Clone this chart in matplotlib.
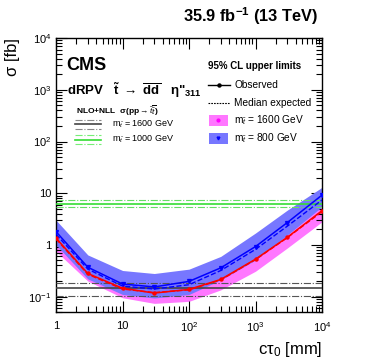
import numpy as np
import matplotlib.pyplot as plt
from matplotlib.lines import Line2D
from matplotlib.patches import Rectangle

plt.rcParams['font.family'] = ['Liberation Sans', 'DejaVu Sans']
plt.rcParams['mathtext.fontset'] = 'custom'
plt.rcParams['mathtext.rm'] = 'Liberation Sans'
plt.rcParams['mathtext.it'] = 'Liberation Sans:italic'
plt.rcParams['mathtext.bf'] = 'Liberation Sans:bold'

# lifetimes (mm)
ctau = [1, 3, 10, 30, 100, 300, 1000, 3000, 10000]

# m_stop = 1600 GeV limits (fb)
obs_1600 = [1.35, 0.28, 0.145, 0.117, 0.138, 0.215, 0.53, 1.4, 4.6]
exp_1600 = [1.3, 0.27, 0.14, 0.12, 0.135, 0.21, 0.52, 1.38, 4.4]
lo_1600 = [0.75, 0.2, 0.095, 0.074, 0.081, 0.135, 0.31, 0.87, 2.8]
hi_1600 = [2.0, 0.42, 0.2, 0.17, 0.2, 0.33, 0.8, 2.1, 6.5]

# m_stop = 800 GeV limits (fb)
obs_800 = [1.8, 0.37, 0.175, 0.154, 0.197, 0.36, 0.93, 2.7, 9.2]
exp_800 = [1.6, 0.34, 0.16, 0.14, 0.17, 0.32, 0.82, 2.3, 7.4]
lo_800 = [1.0, 0.22, 0.11, 0.094, 0.11, 0.21, 0.51, 1.55, 5.5]
hi_800 = [3.0, 0.64, 0.32, 0.28, 0.34, 0.6, 1.7, 4.7, 13.0]

# NLO+NLL cross sections (fb): nominal, up, down
xsec_1600 = [0.147, 0.18, 0.104]
xsec_1000 = [6.2, 7.5, 5.3]

fig = plt.figure(figsize=(3.74, 3.63), dpi=100)
ax = fig.add_axes([0.150, 0.140, 0.711, 0.755])

ax.fill_between(ctau, lo_1600, hi_1600, color='#ff77ff', lw=0, zorder=1)
ax.fill_between(ctau, lo_800, hi_800, color='#7777ff', lw=0, zorder=2)

# theory cross sections
for xs, col, lcol in [(xsec_1600, '#444444', '#555555'), (xsec_1000, '#33dd33', '#66dd66')]:
    ax.axhline(xs[0], color=col, lw=1.2, zorder=3)
    ax.axhline(xs[1], color=lcol, lw=0.8, ls='-.', zorder=3)
    ax.axhline(xs[2], color=lcol, lw=0.8, ls='-.', zorder=3)

ax.plot(ctau, exp_1600, color='red', ls='--', lw=1, zorder=4)
ax.plot(ctau, obs_1600, color='red', lw=1.1, marker='o', ms=2.2, zorder=5)
ax.plot(ctau, exp_800, color='blue', ls='--', lw=1, zorder=4)
ax.plot(ctau, obs_800, color='blue', lw=1.1, marker='v', ms=2.8, zorder=5)

ax.set_xscale('log')
ax.set_yscale('log')
ax.set_xlim(1, 1e4)
ax.set_ylim(0.05, 1e4)
ax.set_xticks([1, 10, 100, 1000, 10000])
ax.set_xticklabels(['1', '10', '$10^{2}$', '$10^{3}$', '$10^{4}$'])
ax.set_yticks([0.1, 1, 10, 100, 1000, 10000])
ax.set_yticklabels(['$10^{-1}$', '1', '10', '$10^{2}$', '$10^{3}$', '$10^{4}$'])
ax.tick_params(which='both', direction='in', top=True, right=True, labelsize=8, width=0.8)
ax.tick_params(which='major', length=8)
ax.tick_params(which='minor', length=4)
ax.tick_params(axis='x', pad=6)
for s in ax.spines.values():
    s.set_linewidth(1.0)

ax.set_xlabel('cτ$_{0}$ [mm]', fontsize=12, loc='right', labelpad=4)
ax.set_ylabel('σ [fb]', fontsize=12, loc='top', labelpad=6)

fig.text(0.850, 0.925, r'35.9 fb$^{\mathbf{-1}}$ (13 TeV)', ha='right', va='bottom',
         fontsize=11.8, fontweight='bold')

T = ax.transAxes
ax.text(0.04, 0.9, 'CMS', transform=T, fontsize=13, fontweight='bold', va='center')
ax.text(0.04, 0.81, r'dRPV   $\mathbf{\tilde{t}}$ $\rightarrow$ $\mathbf{\overline{d}\overline{d}}$   η"$_{\mathbf{311}}$',
        transform=T, fontsize=9.5, fontweight='bold', va='center')
ax.text(0.075, 0.735, r'NLO+NLL  σ(pp$\rightarrow\tilde{t}\overline{\tilde{t}}$)',
        transform=T, fontsize=6, fontweight='bold', va='center')

leg_y = [0.685, 0.63]
leg_lab = [r'm$_{\tilde{t}}$ = 1600 GeV', r'm$_{\tilde{t}}$ = 1000 GeV']
leg_col = [('#444444', '#888888'), ('#33dd33', '#77ee77')]
for y, lab, (c, lc) in zip(leg_y, leg_lab, leg_col):
    ax.add_line(Line2D([0.07, 0.17], [y, y], color=c, lw=1.2, transform=T))
    ax.add_line(Line2D([0.07, 0.17], [y + 0.015, y + 0.015], color=lc, lw=0.8, ls='-.', transform=T))
    ax.add_line(Line2D([0.07, 0.17], [y - 0.015, y - 0.015], color=lc, lw=0.8, ls='-.', transform=T))
    ax.text(0.21, y, lab, transform=T, fontsize=6.5, va='center')

ax.text(0.57, 0.9, '95% CL upper limits', transform=T, fontsize=7, fontweight='bold', va='center')
ax.add_line(Line2D([0.57, 0.655], [0.83, 0.83], color='black', lw=1, transform=T))
ax.add_line(Line2D([0.6125], [0.83], color='black', lw=0, marker='o', ms=2.2, transform=T))
ax.text(0.67, 0.83, 'Observed', transform=T, fontsize=7.3, va='center')
ax.add_line(Line2D([0.57, 0.655], [0.765, 0.765], color='black', lw=0.8, ls=(0, (1.5, 1)), transform=T))
ax.text(0.67, 0.765, 'Median expected', transform=T, fontsize=7.3, va='center')
for y, fc, mc, mk, lab in [(0.7, '#ff77ff', '#ff00ff', 'o', r'm$_{\tilde{t}}$ = 1600 GeV'),
                           (0.635, '#7777ff', '#0000ff', 'v', r'm$_{\tilde{t}}$ = 800 GeV')]:
    ax.add_patch(Rectangle((0.575, y - 0.02), 0.07, 0.04, color=fc, transform=T, lw=0))
    ax.add_line(Line2D([0.61], [y], marker=mk, ms=2, color=mc, lw=0, transform=T))
    ax.text(0.67, y, lab, transform=T, fontsize=7.3, va='center')

fig.savefig('out.png', dpi=100)
